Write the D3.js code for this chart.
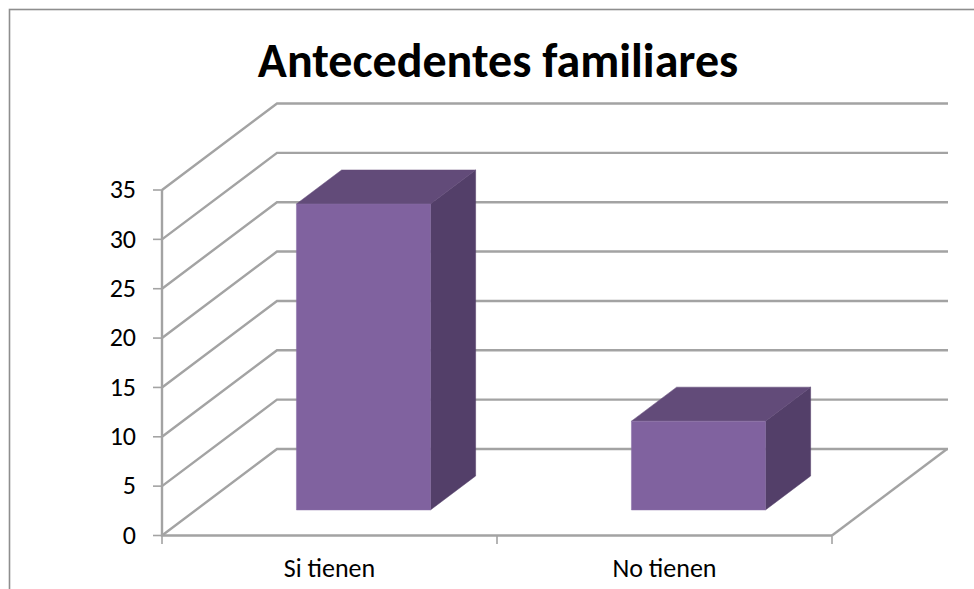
<!DOCTYPE html>
<html><head><meta charset="utf-8">
<script src="https://cdn.jsdelivr.net/npm/d3@7"></script>
<style>html,body{margin:0;padding:0;background:#fff;overflow:hidden}svg{display:block}text{font-family:Carlito,Lato,sans-serif;fill:#000}</style>
</head><body><svg id="c" width="974" height="589"></svg>
<script>
const chartTitle = "Antecedentes familiares";
const categories = ["Si tienen", "No tienen"];
const values = [31, 9];
const yTicks = [0, 5, 10, 15, 20, 25, 30, 35];

const svg = d3.select("#c");
const grid = "#a3a3a3";
const x = d3.scaleBand().domain(categories).range([162, 832]).paddingInner(0.6).paddingOuter(0.3);
const edges = d3.scaleLinear().domain([0, categories.length]).range([162, 832]);
const y = d3.scaleLinear().domain([0, 35]).range([535.5, 190]);
// depth: 0 = front of the floor, 1 = back wall
const dx = d3.scaleLinear().domain([0, 1]).range([0, 115]);
const dy = d3.scaleLinear().domain([0, 1]).range([0, -86.5]);
const barFront = 0.295, barBack = 0.688;
const line = d3.line();

// frame runs off the right and bottom of the picture
svg.append("rect").attr("x", 9.5).attr("y", 9.5).attr("width", 990).attr("height", 600)
  .attr("fill", "#fff").attr("stroke", "#8e8e8e").attr("stroke-width", 1.6);

svg.append("text").attr("x", 498).attr("y", 77).attr("text-anchor", "middle")
  .attr("font-weight", 700).attr("font-size", 48).text(chartTitle);

// gridlines: side wall and back wall
svg.append("g").selectAll("path").data(yTicks).join("path")
  .attr("fill", "none").attr("stroke", grid).attr("stroke-width", 2.4)
  .attr("d", v => line([[x.range()[0], y(v)], [162 + dx(1), y(v) + dy(1)], [948, y(v) + dy(1)]]));

// floor front edge to back corner
svg.append("path").attr("fill", "none").attr("stroke", grid).attr("stroke-width", 2.4)
  .attr("d", line([[832, y(0)], [832 + dx(1), y(0) + dy(1)]]));

// axes
svg.append("path").attr("fill", "none").attr("stroke", grid).attr("stroke-width", 2.4)
  .attr("d", line([[162, y(35)], [162, y(0)], [832, y(0)]]));
svg.append("g").selectAll("line").data(yTicks).join("line")
  .attr("x1", 153).attr("x2", 162).attr("y1", y).attr("y2", y)
  .attr("stroke", grid).attr("stroke-width", 1.6);
svg.append("g").selectAll("line").data(d3.range(categories.length + 1)).join("line")
  .attr("x1", edges).attr("x2", edges).attr("y1", y(0)).attr("y2", 544)
  .attr("stroke", grid).attr("stroke-width", 1.6);

svg.append("g").selectAll("text").data(yTicks).join("text")
  .attr("x", 136).attr("y", y).attr("dy", "0.32em").attr("text-anchor", "end")
  .attr("font-size", 26).text(d => d);
svg.append("g").selectAll("text").data(categories).join("text")
  .attr("x", d => x(d) + x.bandwidth() / 2).attr("y", 577).attr("text-anchor", "middle")
  .attr("font-size", 26).text(d => d);

// bars
const bars = svg.append("g").selectAll("g").data(categories.map((c, i) => ({c, v: values[i]}))).join("g");
const corner = (d, right, val, depth) => [x(d.c) + (right ? x.bandwidth() : 0) + dx(depth), y(val) + dy(depth)];
bars.append("path").attr("fill", "#533f69").attr("stroke", "#533f69").attr("stroke-width", 0.5)
  .attr("d", d => line([corner(d,1,d.v,barFront), corner(d,1,d.v,barBack), corner(d,1,0,barBack), corner(d,1,0,barFront)]) + "Z");
bars.append("path").attr("fill", "#624b79").attr("stroke", "#624b79").attr("stroke-width", 0.5)
  .attr("d", d => line([corner(d,0,d.v,barFront), corner(d,0,d.v,barBack), corner(d,1,d.v,barBack), corner(d,1,d.v,barFront)]) + "Z");
bars.append("path").attr("fill", "#80629f").attr("stroke", "#8a70a8").attr("stroke-width", 0.5)
  .attr("d", d => line([corner(d,0,d.v,barFront), corner(d,1,d.v,barFront), corner(d,1,0,barFront), corner(d,0,0,barFront)]) + "Z");
</script></body></html>
